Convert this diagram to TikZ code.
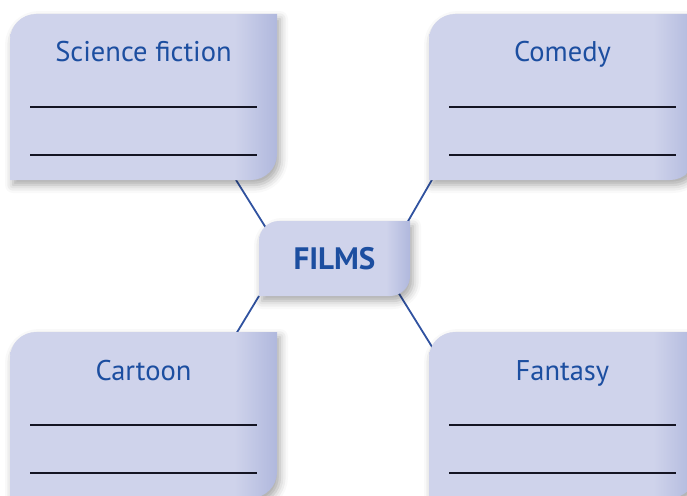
\documentclass[tikz,border=0pt]{standalone}
\usepackage{fontspec}
\setmainfont{PT Sans}
\usepackage{tikz}
\usetikzlibrary{positioning,backgrounds,shadows.blur}

\definecolor{cardfill}{RGB}{207,211,235}
\definecolor{cardedge}{RGB}{176,184,221}
\definecolor{titleblue}{RGB}{28,78,160}
\definecolor{linkblue}{RGB}{48,82,160}
\definecolor{writeink}{RGB}{20,20,35}

\pgfdeclarehorizontalshading{cardshade}{100bp}{color(0bp)=(cardfill); color(67bp)=(cardfill); color(75bp)=(cardedge); color(100bp)=(cardedge)}

\begin{document}
\begin{tikzpicture}[x=1pt,y=1pt,node distance=40pt]
		\tikzstyle{card}=[rectangle, inner sep=0pt, outer sep=0pt, minimum width=267pt, minimum height=166pt]
		\tikzstyle{hub}=[rectangle, inner sep=0pt, outer sep=0pt, minimum width=151pt, minimum height=75pt, text=titleblue, font=\fontsize{31}{34}\selectfont\bfseries]
		\tikzstyle{cardtitle}=[anchor=base, inner sep=0pt, text=titleblue, font=\fontsize{28.5}{32}\selectfont]
		\tikzstyle{cardbg}=[shading=cardshade, blur shadow={shadow xshift=3pt, shadow yshift=-5pt, shadow blur radius=8pt, shadow opacity=35}]
		\tikzstyle{link}=[draw=linkblue, line width=1.8pt]
		\tikzstyle{writeline}=[draw=writeink, line width=1.8pt]

		\useasboundingbox (0,0) rectangle (687,-495);

		\node [hub] (films) at (334.5,-258.5) {FILMS};

		\node [card] (scifi) [above left=41pt and -18pt of films] {};

		\node [card] (comedy) [above right=41pt and 19pt of films] {};

		\node [card] (cartoon) [below left=36pt and -18pt of films] {};

		\node [card] (fantasy) [below right=36pt and 19pt of films] {};

		\node [cardtitle] (scifititle) at ([yshift=-48pt]scifi.north) {Science fiction};
		\node [cardtitle] (comedytitle) at ([yshift=-48pt]comedy.north) {Comedy};
		\node [cardtitle] (cartoontitle) at ([yshift=-48pt]cartoon.north) {Cartoon};
		\node [cardtitle] (fantasytitle) at ([yshift=-48pt]fantasy.north) {Fantasy};

		% lines to write on
		\foreach \c in {scifi,comedy,cartoon,fantasy}
			\foreach \d in {93,141}
				\draw [writeline] ([xshift=20pt,yshift=-\d pt]\c.north west) -- ([xshift=-20pt,yshift=-\d pt]\c.north east);

		\begin{scope}[on background layer]
			\draw [link] ([xshift=-41pt]scifi.south east) -- ([xshift=7pt,yshift=-7pt]films.north west);
			\draw [link] ([xshift=4pt,yshift=2pt]comedy.south west) -- ([xshift=-3pt,yshift=-2pt]films.north east);
			\draw [link] (films.south west) -- ([xshift=-41pt,yshift=-2pt]cartoon.north east);
			\draw [link] ([xshift=-12pt,yshift=4pt]films.south east) -- ([xshift=5pt,yshift=-18pt]fantasy.north west);

			\foreach \c/\r in {scifi/26pt,comedy/26pt,cartoon/26pt,fantasy/26pt,films/20pt}
				\shade [cardbg] (\c.south west) -- ([yshift=-\r]\c.north west) arc[start angle=180,end angle=90,radius=\r] -- (\c.north east) -- ([yshift=\r]\c.south east) arc[start angle=0,end angle=-90,radius=\r] -- cycle;
		\end{scope}
	\end{tikzpicture}
\end{document}
